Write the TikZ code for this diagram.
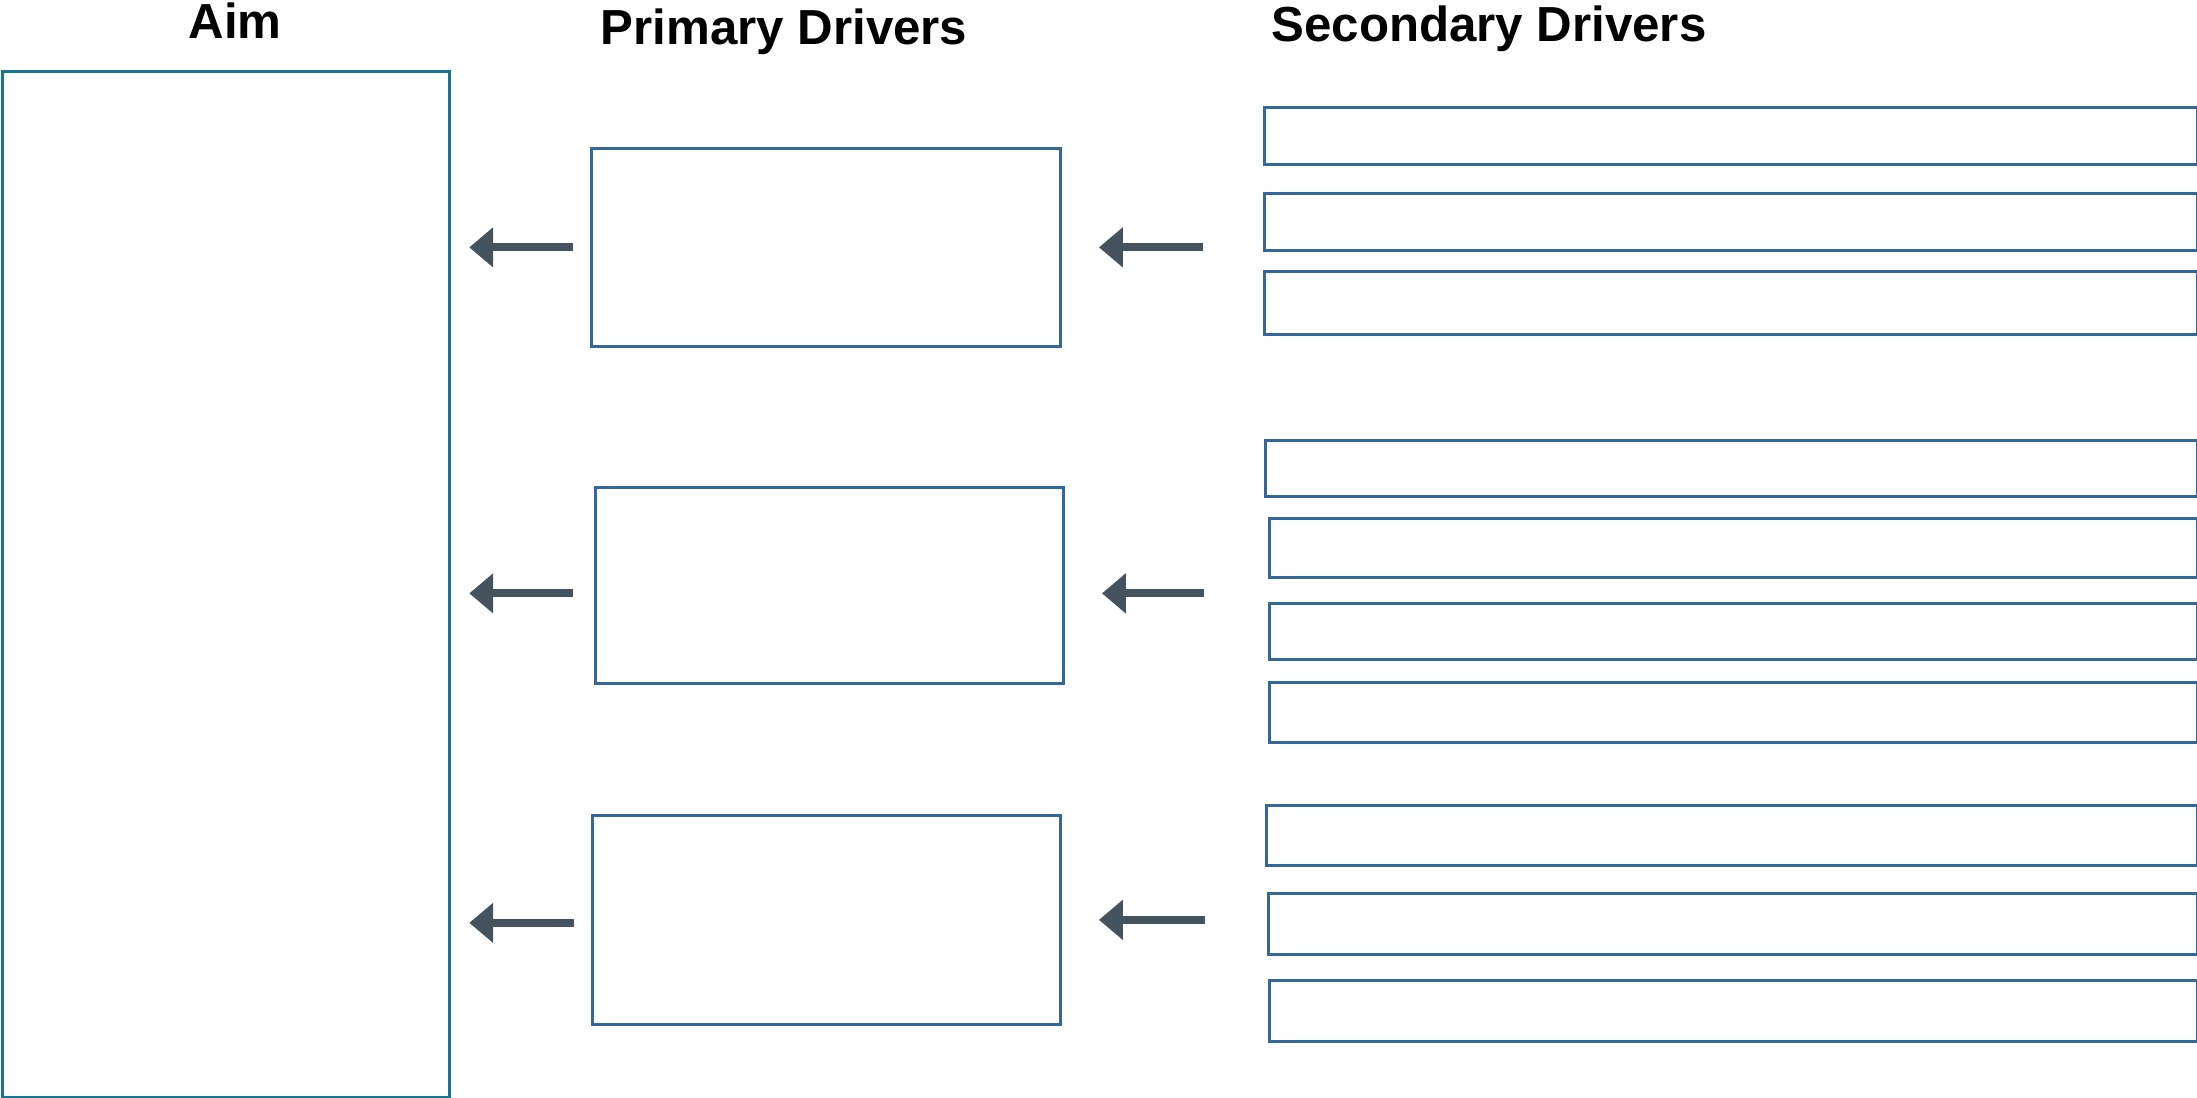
\documentclass[tikz,border=0pt]{standalone}
\usepackage{fontspec}
\setmainfont{Liberation Sans}
\usepackage{tikz}
\usetikzlibrary{arrows.meta}
\definecolor{aimblue}{HTML}{17758F}
\definecolor{boxblue}{HTML}{34679A}
\definecolor{arrowgray}{HTML}{44535E}

\begin{document}
\begin{tikzpicture}
		[
			x = 0.01cm, y = -0.01cm,
			title/.style = {anchor = base, inner sep = 0cm, font = \fontsize{14}{16}\selectfont\bfseries},
			aimbox/.style = {rectangle, draw = aimblue, line width = 0.85pt, anchor = north west, inner sep = 0cm},
			pbox/.style = {rectangle, draw = boxblue, line width = 0.75pt, anchor = north west, inner sep = 0cm},
			sbox/.style = {rectangle, draw = boxblue, line width = 0.75pt, anchor = north west, inner sep = 0cm, minimum height = 0.58cm},
			leftarrow/.style = {draw = arrowgray, line width = 2.3pt, -{Triangle[length = 6.8pt, width = 11pt]}, shorten < = 0.17cm, shorten > = 0.18cm},
			rightarrow/.style = {draw = arrowgray, line width = 2.3pt, -{Triangle[length = 6.8pt, width = 11pt]}, shorten < = 0.6cm, shorten > = 0.37cm},
		]
			\useasboundingbox (0,0) rectangle (2197,1098);
			%
			\node (aimtitle) [title] at (235,39) {Aim};
			\node (primarytitle) [title] at (784,45) {Primary Drivers};
			\node (secondarytitle) [title] at (1489,42) {Secondary Drivers};
			%
			\node (aim) [aimbox, minimum width = 4.47cm, minimum height = 10.25cm] at (1,70) {};
			%
			\node (p1) [pbox, minimum width = 4.69cm, minimum height = 1.98cm] at (590,147) {};
			\node (p2) [pbox, minimum width = 4.68cm, minimum height = 1.96cm] at (594,486) {};
			\node (p3) [pbox, minimum width = 4.68cm, minimum height = 2.09cm] at (591,814) {};
			%
			\node (s1) [sbox, minimum width = 9.32cm, minimum height = 0.57cm] at (1263,106) {};
			\node (s2) [sbox, minimum width = 9.32cm, minimum height = 0.57cm] at (1263,192) {};
			\node (s3) [sbox, minimum width = 9.32cm, minimum height = 0.63cm] at (1263,270) {};
			\node (s4) [sbox, minimum width = 9.31cm, minimum height = 0.56cm] at (1264,439) {};
			\node (s5) [sbox, minimum width = 9.27cm, minimum height = 0.59cm] at (1268,517) {};
			\node (s6) [sbox, minimum width = 9.27cm, minimum height = 0.56cm] at (1268,602) {};
			\node (s7) [sbox, minimum width = 9.27cm, minimum height = 0.60cm] at (1268,681) {};
			\node (s8) [sbox, minimum width = 9.30cm, minimum height = 0.60cm] at (1265,804) {};
			\node (s9) [sbox, minimum width = 9.28cm, minimum height = 0.61cm] at (1267,892) {};
			\node (s10) [sbox, minimum width = 9.27cm, minimum height = 0.61cm] at (1268,979) {};
			%
			\draw [leftarrow] (p1.west) -- (p1.west -| aim.east);
			\draw [leftarrow, shorten < = 0.21cm] ([yshift = -0.08cm] p2.west) -- ([yshift = -0.08cm] p2.west -| aim.east);
			\draw [leftarrow] ([yshift = -0.03cm] p3.west) -- ([yshift = -0.03cm] p3.west -| aim.east);
			%
			\draw [rightarrow] (p1.east -| s2.west) -- (p1.east);
			\draw [rightarrow] ([yshift = -0.08cm] p2.east -| s4.west) -- ([yshift = -0.08cm] p2.east);
			\draw [rightarrow] (p3.east -| s8.west) -- (p3.east);
			%
		\end{tikzpicture}
\end{document}
